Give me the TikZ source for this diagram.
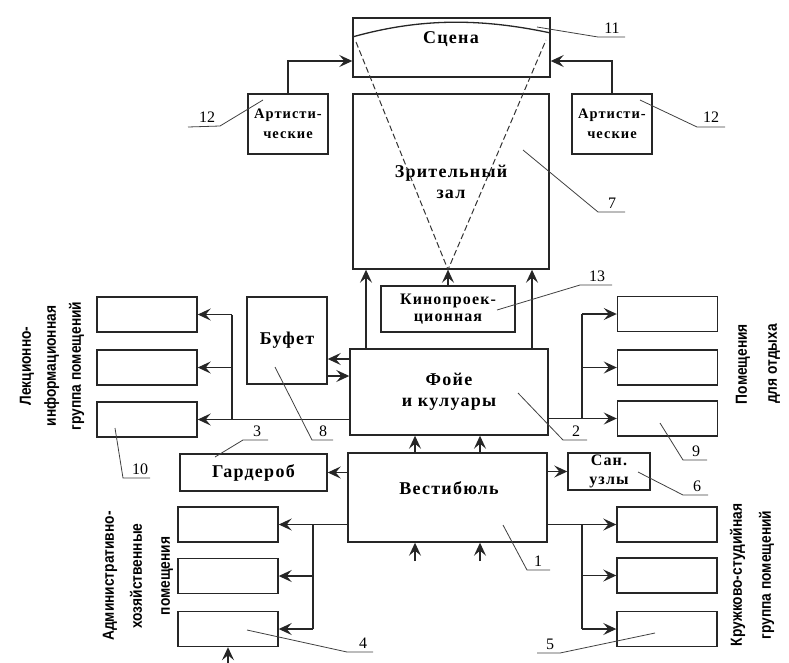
\documentclass[tikz,border=0pt]{standalone}
\usepackage{fontspec}
\setmainfont{Liberation Serif}
\newfontfamily\boxfont[LetterSpace=7]{Liberation Serif}
\newfontfamily\grpfont[FakeStretch=0.86]{Liberation Sans}
\usetikzlibrary{arrows.meta,calc}
\begin{document}
\begin{tikzpicture}[x=1pt,y=-1pt,
 box/.style={draw=black!85, line width=1.4pt, inner sep=0pt, align=center,
   font=\boxfont\bfseries\fontsize{18}{21}\selectfont},
 ebox/.style={draw=black!85, line width=1.4pt, inner sep=0pt, minimum width=100pt, minimum height=35pt},
 lbl/.style={inner sep=0pt, align=center, font=\boxfont\bfseries\fontsize{18}{21}\selectfont},
 arr/.style={line width=1.3pt, draw=black!85, -{Stealth[length=13pt,width=12pt,inset=5pt]}},
 ln/.style={line width=1.3pt, draw=black!85},
 lead/.style={line width=0.8pt, draw=black!75},
 num/.style={font=\fontsize{16}{16}\selectfont, inner sep=0pt},
 grp/.style={rotate=90, align=center, inner sep=0pt},
]
\useasboundingbox (0,0) rectangle (789,662);

% ---- main boxes
\node[box, minimum width=197pt, minimum height=59pt] (scene) at (451.5,47.5) {};
\node[lbl] (scenetxt) at (451,39) {Сцена};
\node[box, minimum width=196pt, minimum height=175pt] (zal) at (451,181.5) {Зрительный\\зал};
\node[box, minimum width=80pt, minimum height=60pt, font=\boxfont\bfseries\fontsize{14.5}{20}\selectfont] (artL) at (288,124) {Артисти-\\ческие};
\node[box, minimum width=80pt, minimum height=60pt, font=\boxfont\bfseries\fontsize{14.5}{20}\selectfont] (artR) at (612,124) {Артисти-\\ческие};
\node[box, minimum width=134pt, minimum height=46pt, font=\boxfont\bfseries\fontsize{16}{17}\selectfont] (kino) at (448,309) {Кинопроек-\\ционная};
\node[box, minimum width=80pt, minimum height=87pt] (buffet) at (287,340.5) {Буфет};
\node[box, minimum width=198pt, minimum height=86pt] (foyer) at (449,392) {Фойе\\и кулуары};
\node[box, minimum width=147pt, minimum height=37pt] (gard) at (253.5,472.5) {Гардероб};
\node[box, minimum width=199pt, minimum height=89pt] (vest) at (447.5,497.5) {};
\node[lbl] (vesttxt) at (449,488) {Вестибюль};
\node[box, minimum width=82pt, minimum height=37pt, font=\boxfont\bfseries\fontsize{16}{19}\selectfont] (san) at (609,471.5) {Сан.\\узлы};

% ---- group boxes
\node[ebox] (lu1) at (147,314.5) {};
\node[ebox] (lu2) at (147,367.5) {};
\node[ebox] (lu3) at (147,419.5) {};
\node[ebox] (ru1) at (667.5,314) {};
\node[ebox] (ru2) at (667.5,367.5) {};
\node[ebox] (ru3) at (667.5,418.5) {};
\node[ebox] (ll1) at (228,524.5) {};
\node[ebox] (ll2) at (228,576) {};
\node[ebox] (ll3) at (228,629) {};
\node[ebox] (rl1) at (667,524.5) {};
\node[ebox] (rl2) at (667,575.5) {};
\node[ebox] (rl3) at (667,629) {};

% ---- group titles
\node[grp, font=\grpfont\bfseries\fontsize{16}{25}\selectfont] (g1) at (52,366) {Лекционно-\\информационная\\группа помещений};
\node[grp, font=\grpfont\bfseries\fontsize{16}{30}\selectfont] (g2) at (758,364) {Помещения\\для отдыха};
\node[grp, font=\grpfont\bfseries\fontsize{16}{28}\selectfont] (g3) at (138,576) {Административно-\\хозяйственные\\помещения};
\node[grp, font=\grpfont\bfseries\fontsize{16}{29}\selectfont] (g4) at (752,575) {Кружково-студийная\\группа помещений};

% ---- stage arc and sight lines
\draw[ln] (scene.west |- 0,37) .. controls (420,18) and (480,18) .. (scene.east |- 0,33);
\coordinate (apex) at (zal.south -| kino.north);
\coordinate (sl1) at (356,42);
\coordinate (sl2) at (546,40);
\draw[line width=1pt, draw=black!80, dash pattern=on 6pt off 3pt] (sl1) -- (apex) -- (sl2);

% ---- connectors
\coordinate (sL) at (scene.west |- 0,61);
\coordinate (sR) at (scene.east |- 0,61);
\draw[arr] (artL.north) |- (sL);
\draw[arr] (artR.north) |- (sR);

\draw[arr] (foyer.north -| 366,0) -- (zal.south -| 366,0);
\draw[arr] (foyer.north -| 532,0) -- (zal.south -| 532,0);
\draw[arr] (kino.north) -- (apex);

\draw[arr] (foyer.west |- 0,359) -- (buffet.east |- 0,359);
\draw[arr] (buffet.east |- 0,376) -- (foyer.west |- 0,376);

\draw[arr] (foyer.west |- lu3) -- (lu3.east);
\draw[ln] (lu3.east -| 232,0) -- (lu1.east -| 232,0);
\draw[arr] (lu1.east -| 232,0) -- (lu1.east);
\draw[arr] (lu2.east -| 232,0) -- (lu2.east);

\draw[arr] (foyer.east |- ru3) -- (ru3.west);
\draw[ln] (ru3.west -| 582,0) -- (ru1.west -| 582,0);
\draw[arr] (ru1.west -| 582,0) -- (ru1.west);
\draw[arr] (ru2.west -| 582,0) -- (ru2.west);

\draw[arr] (vest.north -| 415,0) -- (foyer.south -| 415,0);
\draw[arr] (vest.north -| 480,0) -- (foyer.south -| 480,0);
\coordinate (in1) at (415,561);
\coordinate (in2) at (480,561);
\draw[arr] (in1) -- (vest.south -| in1);
\draw[arr] (in2) -- (vest.south -| in2);

\draw[arr] (vest.west |- gard) -- (gard.east);
\draw[arr] (vest.east |- san) -- (san.west);

\draw[arr] (vest.west |- ll1) -- (ll1.east);
\draw[ln] (ll1.east -| 313,0) -- (ll3.east -| 313,0);
\draw[arr] (ll2.east -| 313,0) -- (ll2.east);
\draw[arr] (ll3.east -| 313,0) -- (ll3.east);

\draw[arr] (vest.east |- rl1) -- (rl1.west);
\draw[ln] (rl1.west -| 582,0) -- (rl3.west -| 582,0);
\draw[arr] (rl2.west -| 582,0) -- (rl2.west);
\draw[arr] (rl3.west -| 582,0) -- (rl3.west);

\coordinate (in3) at (228,666);
\draw[arr] (in3) -- (ll3.south);

% ---- leader lines and numbers
\draw[lead] (263,100) -- (220,126) -- (188,127);  \node[num] (n12a) at (207,117) {12};
\draw[lead] (640,100) -- (697,127) -- (725,127);  \node[num] (n12b) at (711,117) {12};
\draw[lead] (537,27) -- (598,37) -- (625,37);     \node[num] (n11) at (612,28) {11};
\draw[lead] (523,150) -- (598,212) -- (625,212);  \node[num] (n7) at (612,203) {7};
\draw[lead] (497,310) -- (580,285) -- (612,285);  \node[num] (n13) at (597,276) {13};
\draw[lead] (518,393) -- (563,440) -- (587,440);  \node[num] (n2) at (576,431) {2};
\draw[lead] (660,423) -- (683,460) -- (707,460);  \node[num] (n9) at (696,451) {9};
\draw[lead] (275,367) -- (312,440) -- (333,440);  \node[num] (n8) at (323,431) {8};
\draw[lead] (215,457) -- (243,440) -- (268,440);  \node[num] (n3) at (257,431) {3};
\draw[lead] (115,428) -- (123,478) -- (150,478);  \node[num] (n10) at (140,469) {10};
\draw[lead] (638,472) -- (683,495) -- (708,495);  \node[num] (n6) at (697,486) {6};
\draw[lead] (655,633) -- (560,653) -- (537,653);  \node[num] (n5) at (550,644) {5};
\draw[lead] (247,630) -- (347,652) -- (373,652);  \node[num] (n4) at (363,643) {4};
\draw[lead] (503,525) -- (527,570) -- (550,570);  \node[num] (n1) at (538,561) {1};
\end{tikzpicture}
\end{document}
